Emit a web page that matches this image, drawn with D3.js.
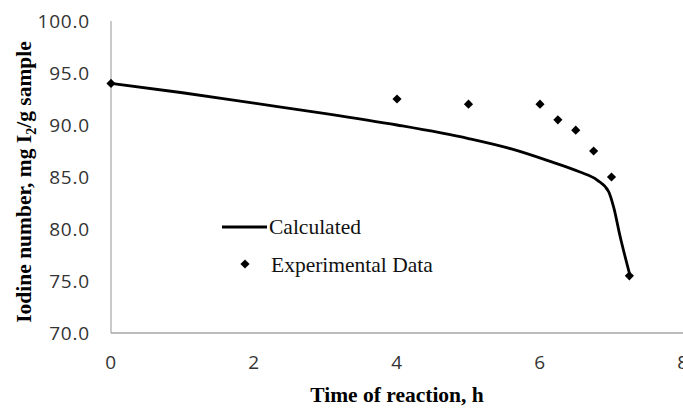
<!DOCTYPE html>
<html>
<head>
<meta charset="utf-8">
<script src="https://cdn.jsdelivr.net/npm/d3@7.9.0/dist/d3.min.js"></script>
<style>
  body { margin: 0; background: #fff; }
  svg { display: block; }
  .tick-label { font-family: 'Open Sans', sans-serif; font-size: 19px; letter-spacing: 0.8px; fill: #333; }
  .title { font-family: 'Liberation Serif', serif; font-weight: bold; font-size: 21.5px; fill: #000; }
  .legend-text { font-family: 'Liberation Serif', serif; font-size: 21.5px; fill: #111; }
</style>
</head>
<body>
<svg width="683" height="408"></svg>
<script>
// calculated curve
const calcTime = [0, 1, 2, 3, 4, 5, 5.6, 6.1, 6.55, 6.8, 6.96, 7.03, 7.12, 7.26];
const calcIodine = [94.0, 93.1, 92.1, 91.1, 90.0, 88.7, 87.7, 86.6, 85.5, 84.7, 83.6, 82.1, 79.3, 75.5];

// experimental points
const expTime = [0, 4, 5, 6, 6.25, 6.5, 6.75, 7, 7.25];
const expIodine = [94.0, 92.5, 92.0, 92.0, 90.5, 89.5, 87.5, 85.0, 75.5];

const xTicks = [0, 2, 4, 6, 8];
const yTicks = [70, 75, 80, 85, 90, 95, 100];

const svg = d3.select('svg');
const x = d3.scaleLinear().domain([0, 8]).range([111, 683]);
const y = d3.scaleLinear().domain([70, 100]).range([333, 21]);

// axes lines
svg.append('line')
  .attr('x1', x(0)).attr('x2', x(8))
  .attr('y1', y(70)).attr('y2', y(70))
  .attr('stroke', '#a6a6a6').attr('stroke-width', 1.5);
svg.append('line')
  .attr('x1', x(0)).attr('x2', x(0))
  .attr('y1', y(100)).attr('y2', y(70))
  .attr('stroke', '#a6a6a6').attr('stroke-width', 1.2);

// tick labels
svg.selectAll('.xt').data(xTicks).join('text')
  .attr('class', 'tick-label')
  .attr('x', (d) => x(d)).attr('y', 369)
  .attr('text-anchor', 'middle')
  .text((d) => d);
svg.selectAll('.yt').data(yTicks).join('text')
  .attr('class', 'tick-label')
  .attr('x', 90).attr('y', (d) => y(d) + 7)
  .attr('text-anchor', 'end')
  .text((d) => d.toFixed(1));

// titles
svg.append('text')
  .attr('class', 'title')
  .attr('x', 397).attr('y', 402)
  .attr('text-anchor', 'middle')
  .text('Time of reaction, h');

const yt = svg.append('text')
  .attr('class', 'title')
  .attr('transform', 'translate(31,182) rotate(-90)')
  .attr('text-anchor', 'middle');
yt.append('tspan').text('Iodine number, mg I');
yt.append('tspan').attr('font-size', 14).attr('dy', 5).text('2');
yt.append('tspan').attr('dy', -5).text('/g sample');

// calculated line
const calc = calcTime.map((t, i) => [t, calcIodine[i]]);
svg.append('path')
  .datum(calc)
  .attr('fill', 'none')
  .attr('stroke', '#000')
  .attr('stroke-width', 2.8)
  .attr('d', d3.line().x((d) => x(d[0])).y((d) => y(d[1])).curve(d3.curveMonotoneX));

// experimental diamonds
const diamond = d3.symbol().type(d3.symbolSquare).size(42);
const exp = expTime.map((t, i) => [t, expIodine[i]]);
svg.selectAll('.pt').data(exp).join('path')
  .attr('d', diamond)
  .attr('fill', '#000')
  .attr('transform', (d) => `translate(${x(d[0])},${y(d[1])}) rotate(45)`);

// legend
svg.append('line')
  .attr('x1', 222).attr('x2', 267).attr('y1', 227).attr('y2', 227)
  .attr('stroke', '#000').attr('stroke-width', 2.8);
svg.append('text').attr('class', 'legend-text')
  .attr('x', 269).attr('y', 234).text('Calculated');
svg.append('path')
  .attr('d', diamond)
  .attr('fill', '#000')
  .attr('transform', 'translate(245,264) rotate(45)');
svg.append('text').attr('class', 'legend-text')
  .attr('x', 271).attr('y', 272).text('Experimental Data');
</script>
</body>
</html>
